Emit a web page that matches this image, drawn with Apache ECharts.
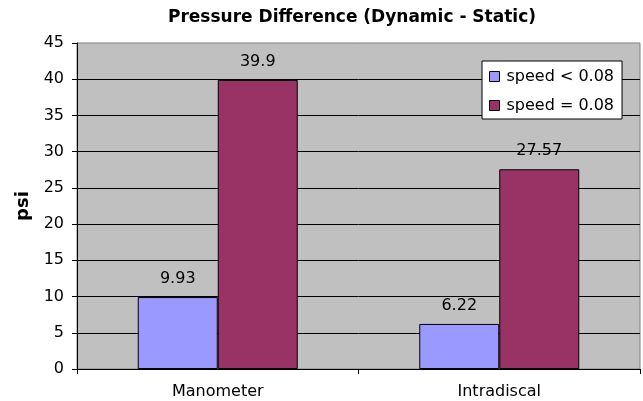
<!DOCTYPE html>
<html>
<head>
<meta charset="utf-8">
<script src="https://cdn.jsdelivr.net/npm/echarts@6/dist/echarts.min.js"></script>
<style>
html,body{margin:0;padding:0;background:#fff;}
#chart{width:643px;height:401px;}
</style>
</head>
<body>
<div id="chart"></div>
<script>
var categories = ['Manometer', 'Intradiscal'];
var seriesNames = ['speed < 0.08', 'speed = 0.08'];
var slowValues = [9.93, 6.22];
var fastValues = [39.9, 27.57];
var yTicks = [0, 5, 10, 15, 20, 25, 30, 35, 40, 45];

var chart = echarts.init(document.getElementById('chart'), null, {renderer: 'canvas'});
var FONT = 'DejaVu Sans';
chart.setOption({
  animation: false,
  backgroundColor: '#ffffff',
  title: {
    text: 'Pressure Difference (Dynamic - Static)',
    left: 168,
    top: 9,
    padding: 0,
    textStyle: {fontFamily: FONT, fontWeight: 'bold', fontSize: 17, color: '#000'}
  },
  legend: {
    data: seriesNames,
    orient: 'vertical',
    left: 482,
    top: 61,
    padding: [6, 8, 4, 7],
    itemGap: 10,
    itemWidth: 10,
    itemHeight: 10,
    icon: 'rect',
    backgroundColor: '#ffffff',
    borderColor: '#000000',
    borderWidth: 1,
    borderRadius: 0,
    itemStyle: {borderColor: '#000', borderWidth: 1},
    textStyle: {fontFamily: FONT, fontSize: 16, color: '#000', lineHeight: 19, padding: [0, 0, 0, 2]}
  },
  grid: {
    left: 77, right: 3, top: 43, bottom: 32,
    show: true,
    backgroundColor: '#C0C0C0',
    borderColor: '#808080',
    borderWidth: 1
  },
  xAxis: {
    type: 'category',
    data: categories,
    axisLine: {lineStyle: {color: '#000', width: 1}},
    axisTick: {show: true, length: 5, lineStyle: {color: '#000'}},
    axisLabel: {fontFamily: FONT, fontSize: 16, color: '#000', margin: 15},
    splitLine: {show: false}
  },
  yAxis: {
    type: 'value',
    min: yTicks[0],
    max: yTicks[yTicks.length - 1],
    interval: yTicks[1] - yTicks[0],
    name: 'psi',
    nameLocation: 'middle',
    nameGap: 45,
    nameTextStyle: {fontFamily: FONT, fontWeight: 'bold', fontSize: 18, color: '#000'},
    axisLine: {show: true, lineStyle: {color: '#000', width: 1}},
    axisTick: {show: true, length: 5, lineStyle: {color: '#000'}},
    axisLabel: {fontFamily: FONT, fontSize: 16, color: '#000', margin: 13},
    splitLine: {show: true, showMaxLine: false, lineStyle: {color: '#000', width: 1}}
  },
  series: [
    {
      name: seriesNames[0],
      type: 'bar',
      data: slowValues,
      barWidth: 80,
      barGap: '0%',
      itemStyle: {color: '#9999FF', borderColor: '#000', borderWidth: 1},
      label: {show: true, position: 'top', distance: 10, fontFamily: FONT, fontSize: 16, color: '#000'}
    },
    {
      name: seriesNames[1],
      type: 'bar',
      data: fastValues,
      barWidth: 80,
      barGap: '0%',
      itemStyle: {color: '#993366', borderColor: '#000', borderWidth: 1},
      label: {show: true, position: 'top', distance: 10, fontFamily: FONT, fontSize: 16, color: '#000'}
    }
  ]
});
</script>
</body>
</html>
